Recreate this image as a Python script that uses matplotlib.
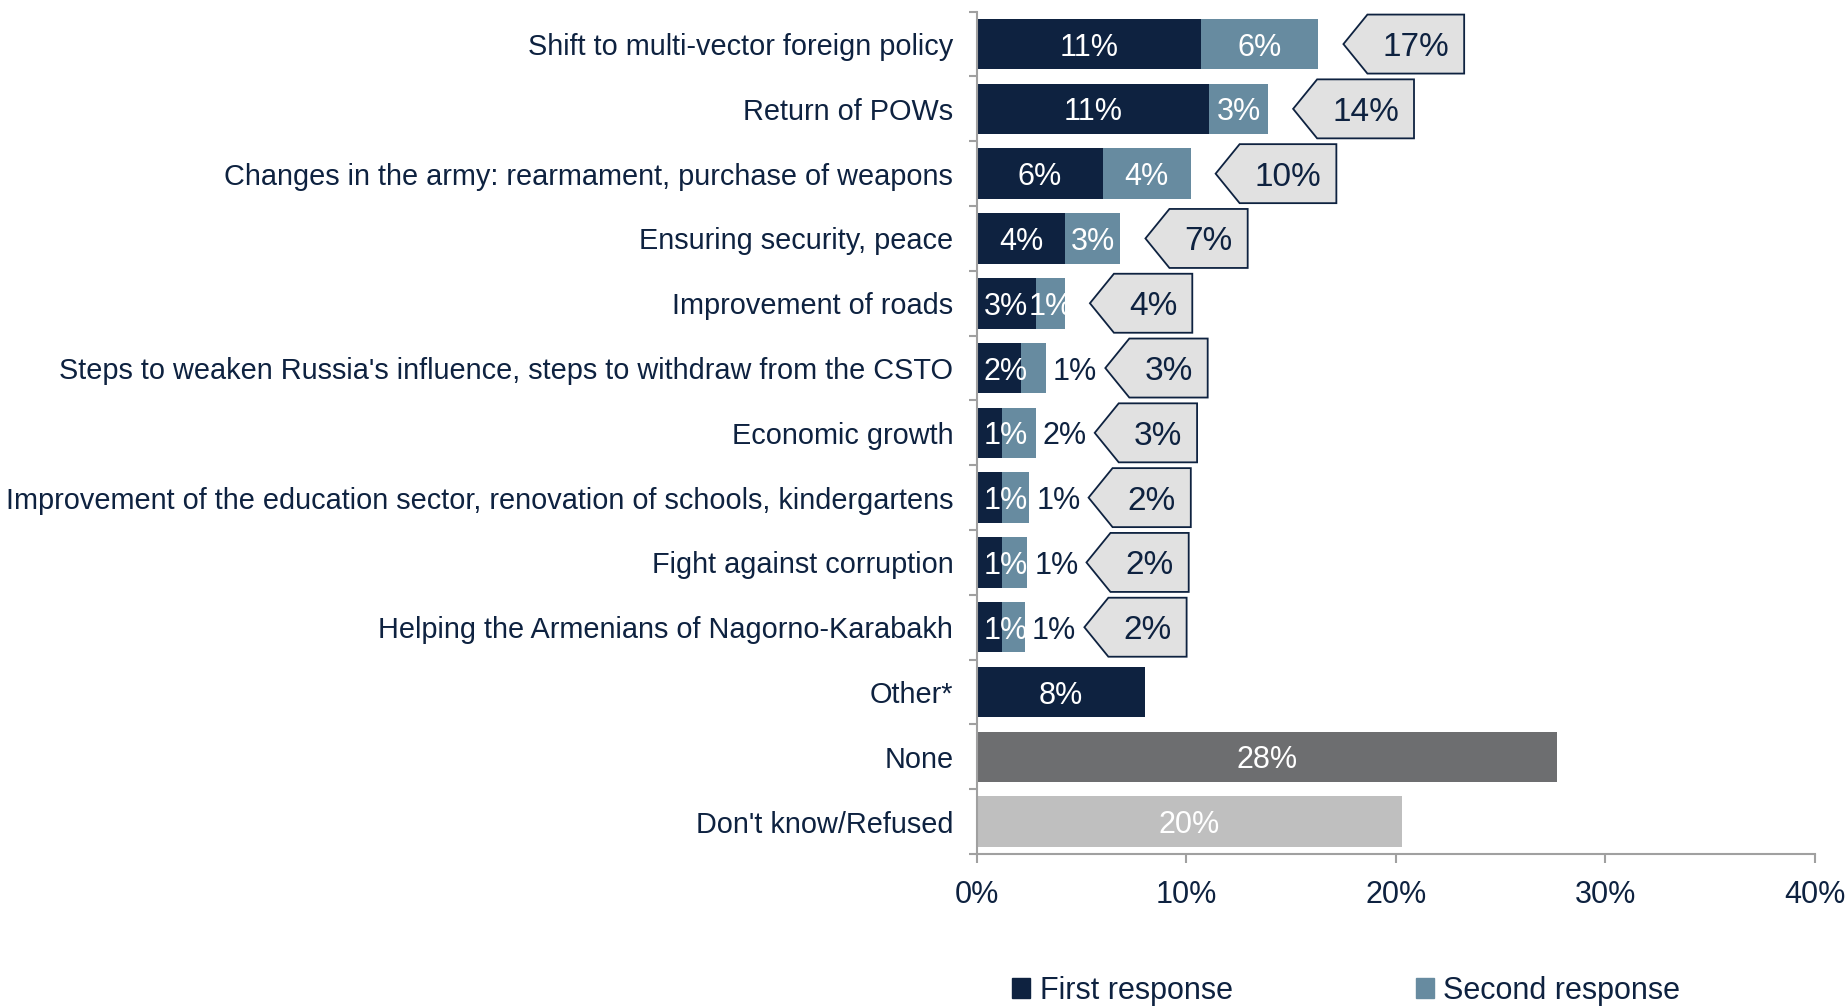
import numpy as np
import matplotlib.pyplot as plt
from matplotlib.path import Path
from matplotlib.patches import Patch

categories = [
    "Shift to multi-vector foreign policy",
    "Return of POWs",
    "Changes in the army: rearmament, purchase of weapons",
    "Ensuring security, peace",
    "Improvement of roads",
    "Steps to weaken Russia's influence, steps to withdraw from the CSTO",
    "Economic growth",
    "Improvement of the education sector, renovation of schools, kindergartens",
    "Fight against corruption",
    "Helping the Armenians of Nagorno-Karabakh",
    "Other*",
    "None",
    "Don't know/Refused",
]
first_resp = [10.7, 11.1, 6.0, 4.2, 2.8, 2.1, 1.2, 1.2, 1.2, 1.2, 8.0]
second_resp = [5.6, 2.8, 4.2, 2.65, 1.4, 1.2, 1.6, 1.3, 1.2, 1.1]
first_lbl = ["11%", "11%", "6%", "4%", "3%", "2%", "1%", "1%", "1%", "1%", "8%"]
second_lbl = ["6%", "3%", "4%", "3%", "1%", "1%", "2%", "1%", "1%", "1%"]
total_lbl = ["17%", "14%", "10%", "7%", "4%", "3%", "3%", "2%", "2%", "2%"]
none_val, none_lbl = 27.7, "28%"
dk_val, dk_lbl = 20.3, "20%"
xticks = [0, 10, 20, 30, 40]

NAVY = '#0E2240'
STEEL = '#678BA0'
DARKGRAY = '#6D6E70'
LIGHTGRAY = '#BFBFBF'
CALLOUT = '#E1E1E1'
AXGRAY = '#A0A0A0'

plt.rcParams['font.family'] = ['Liberation Sans', 'DejaVu Sans']

# callout shape: box pointing left, sizes in pixels
TIP = 24
PADX = 15
HALF_H = 29.5


def pentagon(x0, y0, width, height, mutation_size):
    d = 0.21 * mutation_size  # descent below the baseline
    left = x0 - PADX
    right = x0 + width + PADX
    cy = y0 + d + (height - d) / 2
    verts = [(left, cy - HALF_H), (right, cy - HALF_H), (right, cy + HALF_H),
             (left, cy + HALF_H), (left - TIP, cy), (left, cy - HALF_H)]
    codes = [Path.MOVETO] + [Path.LINETO] * 4 + [Path.CLOSEPOLY]
    return Path(verts, codes)


fig = plt.figure(figsize=(18.45, 10.06), dpi=100)
ax = fig.add_axes([0.5295, 0.1511, 0.4542, 0.8373])

n = len(categories)
y = np.arange(n)
n1 = len(first_resp)
n2 = len(second_resp)
h = 0.78

ax.barh(y[:n1], first_resp, height=h, color=NAVY)
ax.barh(y[:n2], second_resp, left=first_resp[:n2], height=h, color=STEEL)
ax.barh(y[n1], none_val, height=h, color=DARKGRAY)
ax.barh(y[n1 + 1], dk_val, height=h, color=LIGHTGRAY)

ax.set_xlim(0, 40)
ax.set_ylim(n - 0.5, -0.5)

fig.canvas.draw()
r = fig.canvas.get_renderer()
x0px = ax.transData.transform((0, 0))[0]
px = 40 / (ax.transData.transform((40, 0))[0] - x0px)  # data units per pixel

lab_fs = 22
va = 'center_baseline'
for i in range(n1):
    t1 = ax.text(first_resp[i] / 2, i, first_lbl[i], color='white', ha='center',
                 va=va, fontsize=lab_fs)
    b1 = t1.get_window_extent(r)
    if b1.x0 < x0px + 7:
        t1.set_x(first_resp[i] / 2 + (x0px + 7 - b1.x0) * px)
        b1 = t1.get_window_extent(r)
    if i >= n2:
        continue
    total = first_resp[i] + second_resp[i]
    t2 = ax.text(first_resp[i] + second_resp[i] / 2, i, second_lbl[i], color='white',
                 ha='center', va=va, fontsize=lab_fs)
    b2 = t2.get_window_extent(r)
    if b2.x0 < b1.x1 - 2:
        t2.set_color(NAVY)
        t2.set_ha('left')
        t2.set_x(total + 7 * px)
        b2 = t2.get_window_extent(r)
        tip = (b2.x1 - x0px + 8) * px
    else:
        tip = total + 25 * px
    ax.annotate(total_lbl[i], xy=(tip, i), xytext=(TIP + PADX, 0), textcoords='offset pixels',
                ha='left', va=va, fontsize=24, color=NAVY,
                bbox=dict(boxstyle=pentagon, fc=CALLOUT, ec=NAVY, lw=1.3))

ax.text(none_val / 2, n1, none_lbl, color='white', ha='center', va=va, fontsize=lab_fs)
ax.text(dk_val / 2, n1 + 1, dk_lbl, color='white', ha='center', va=va, fontsize=lab_fs)

ax.set_yticks(y, categories)
ax.set_yticks(np.arange(-0.5, n, 1), minor=True)
ax.tick_params(axis='y', which='major', length=0, pad=17, labelsize=20.8, labelcolor=NAVY)
ax.tick_params(axis='y', which='minor', length=6, width=1.5, color=AXGRAY, direction='out')
ax.set_xticks(xticks, [f'{v}%' for v in xticks])
ax.tick_params(axis='x', length=6.5, width=1.5, color=AXGRAY, labelsize=22,
               labelcolor=NAVY, pad=12)
for s in ['top', 'right']:
    ax.spines[s].set_visible(False)
for s in ['left', 'bottom']:
    ax.spines[s].set_color(AXGRAY)
    ax.spines[s].set_linewidth(1.5)

handles = [Patch(color=NAVY, label='First response'), Patch(color=STEEL, label='Second response')]
fig.legend(handles=handles, loc='center', bbox_to_anchor=(0.7297, 0.015), ncol=2,
           frameon=False, fontsize=22, handlelength=0.6, handleheight=0.6,
           handletextpad=0.3, columnspacing=6, labelcolor=NAVY)

fig.savefig('out.png', dpi=100)
